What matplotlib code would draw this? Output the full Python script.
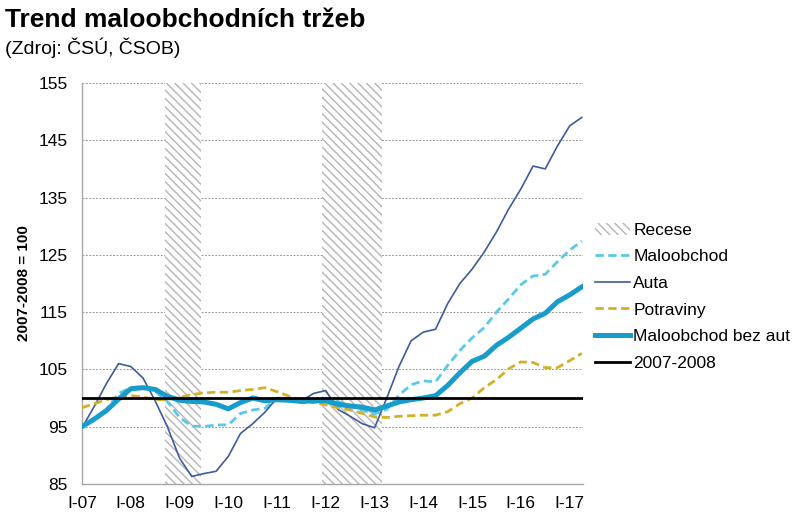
#%%
# IMPORTS #######################################

import matplotlib
matplotlib.use('Agg')
import matplotlib.pyplot as plt
from matplotlib.patches import Patch
from matplotlib.lines import Line2D
import numpy as np

# SETUP #########################################

plt.rcParams.update({
    'font.family': ['Liberation Sans', 'DejaVu Sans'],
    'font.size': 12,
    'hatch.linewidth': 1.0,
})

# DATA ##########################################

# quarterly points, decimal years 2007.0 ... 2017.25
t = [2007 + 0.25 * k for k in range(42)]

maloobchod = [
    95.0, 96.3, 98.0, 100.8, 101.8, 102.0, 101.2, 99.4, 96.6, 95.1,
    95.0, 95.3, 95.3, 97.3, 97.9, 98.2, 100.0, 99.8, 99.2, 99.2,
    99.8, 99.4, 98.6, 97.9, 97.2, 98.0, 100.5, 102.3, 103.0, 102.8,
    105.7, 108.3, 110.5, 112.3, 115.0, 117.3, 119.8, 121.3, 121.6, 123.8,
    125.8, 127.4,
]
auta = [
    94.8, 98.5, 102.5, 106.0, 105.5, 103.5, 99.5, 95.0, 89.5, 86.3,
    86.8, 87.2, 89.8, 93.8, 95.5, 97.5, 100.0, 100.0, 99.5, 100.8,
    101.3, 98.0, 96.8, 95.5, 94.8, 100.0, 105.5, 110.0, 111.5, 112.0,
    116.5, 120.0, 122.5, 125.5, 129.0, 133.0, 136.5, 140.5, 140.0, 144.0,
    147.5, 149.0,
]
potraviny = [
    98.3, 99.0, 99.7, 100.2, 100.4, 100.2, 99.7, 99.7, 100.1, 100.6,
    100.9, 101.0, 101.0, 101.3, 101.5, 101.8, 101.1, 100.3, 99.6, 99.2,
    98.8, 98.3, 97.9, 97.3, 96.7, 96.6, 96.8, 96.9, 97.0, 97.0,
    97.6, 99.0, 100.0, 101.8, 103.2, 105.1, 106.3, 106.2, 105.3, 105.3,
    106.5, 107.8,
]
bez_aut = [
    95.0, 96.3, 97.8, 99.8, 101.6, 101.8, 101.5, 100.3, 99.6, 99.4,
    99.3, 98.9, 98.1, 99.2, 100.0, 99.5, 99.7, 99.6, 99.4, 99.5,
    99.5, 98.9, 98.6, 98.4, 97.9, 98.6, 99.3, 99.7, 100.0, 100.4,
    102.2, 104.4, 106.4, 107.3, 109.2, 110.6, 112.2, 113.8, 114.8, 116.8,
    118.0, 119.4,
]
baseline = [100.0] * len(t)

# recession periods (start, end)
recese = [(2008.70, 2009.44), (2011.92, 2013.15)]

tick_years = list(range(2007, 2018))
tick_labels = ['I-%02d' % (y % 100) for y in tick_years]

# FIGURE ########################################

fig = plt.figure(figsize=(8, 5.22), dpi=100)
ax = fig.add_axes([0.1025, 0.073, 0.626, 0.768])

# RECESSION BANDS ############

for start, end in recese:
    ax.axvspan(
        start, end,
        facecolor='white',
        edgecolor='#b5b5b5',
        hatch='\\\\\\\\',
        linewidth=0,
        zorder=1,
    )

# PLOTTING ###################

ax.plot(t, maloobchod, color='#5bc8e8', linestyle=(0, (3.0, 1.6)),
        linewidth=2.0, zorder=3)
ax.plot(t, auta, color='#3d5c99', linestyle='-', linewidth=1.2, zorder=3)
ax.plot(t, potraviny, color='#d4b02a', linestyle=(0, (3.0, 1.6)),
        linewidth=2.0, zorder=3)
ax.plot(t, bez_aut, color='#189ccc', linestyle='-', linewidth=3.6, zorder=4)
ax.plot(t, baseline, color='black', linestyle='-', linewidth=2.0, zorder=5)

# AXIS LIMITS ################

ax.set_xlim(2007, 2017.27)
ax.set_ylim(85, 155)

# TICKS AND LABELS ###########

ax.set_yticks(np.arange(85, 156, 10))
ax.set_xticks(tick_years)
ax.set_xticklabels(tick_labels)
ax.tick_params(axis='both', length=0, labelsize=12.5, colors='black')
ax.tick_params(axis='y', pad=10)
ax.tick_params(axis='x', pad=9)

for side in ['top', 'right']:
    ax.spines[side].set_visible(False)
for side in ['left', 'bottom']:
    ax.spines[side].set_color('#a6a6a6')
    ax.spines[side].set_linewidth(1.0)

# GRIDS ######################

ax.grid(which='major', axis='y', linestyle=(0, (2, 1.5)),
        color='#9a9a9a', linewidth=0.7, zorder=0)
ax.set_axisbelow(True)

ax.set_ylabel('2007-2008 = 100', fontsize=11, fontweight='bold', labelpad=6)

# TITLE ######################

fig.text(0.006, 0.985, 'Trend maloobchodních tržeb',
         fontsize=19, fontweight='bold', va='top', ha='left')
fig.text(0.006, 0.928, '(Zdroj: ČSÚ, ČSOB)',
         fontsize=14, va='top', ha='left')

# LEGEND ####################

handles = [
    Patch(facecolor='white', edgecolor='#b5b5b5', hatch='\\\\\\\\',
          linewidth=0),
    Line2D([], [], color='#5bc8e8', linestyle=(0, (3.0, 1.6)), linewidth=2.0),
    Line2D([], [], color='#3d5c99', linewidth=1.2),
    Line2D([], [], color='#d4b02a', linestyle=(0, (3.0, 1.6)), linewidth=2.0),
    Line2D([], [], color='#189ccc', linewidth=3.6),
    Line2D([], [], color='black', linewidth=2.0),
]
labels = ['Recese', 'Maloobchod', 'Auta', 'Potraviny',
          'Maloobchod bez aut', '2007-2008']
fig.legend(
    handles, labels,
    loc='upper left',
    bbox_to_anchor=(0.735, 0.587),
    frameon=False,
    fontsize=12.5,
    handlelength=2.0,
    handletextpad=0.2,
    labelspacing=0.66,
    borderaxespad=0,
)

# EXPORT #########################################

fig.savefig('out.png', dpi=100)
